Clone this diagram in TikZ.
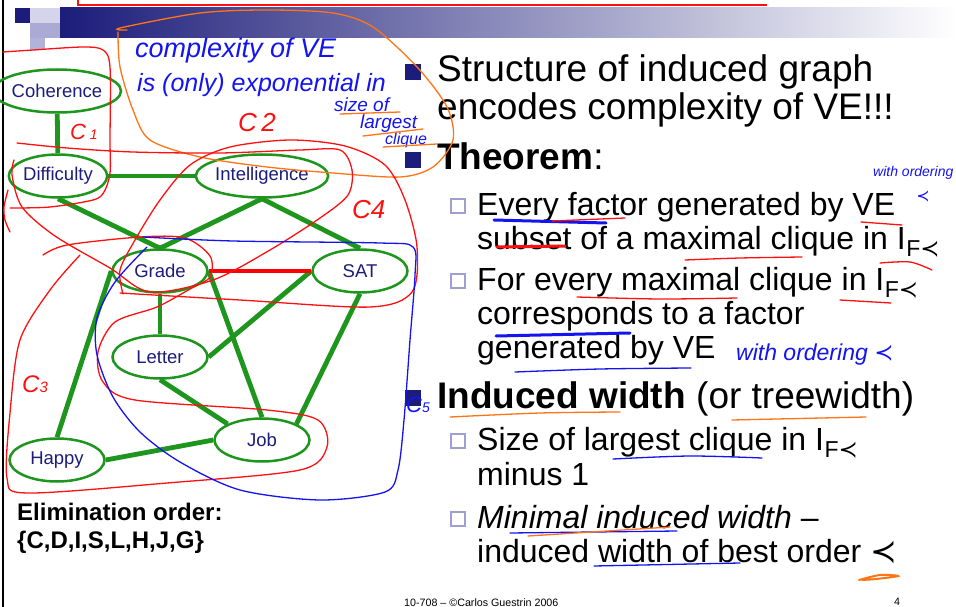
\documentclass[tikz,border=0pt]{standalone}
\usepackage{fontspec}
\setmainfont{Liberation Sans}
\newfontfamily\symfont{DejaVu Sans}
\usetikzlibrary{shapes.geometric}
\definecolor{slnavy}{HTML}{1C1C7A}
\definecolor{slgreen}{HTML}{1E961E}
\definecolor{sllav}{HTML}{A0A0D0}
\definecolor{inkred}{HTML}{FF1010}
\definecolor{inkblue}{HTML}{1414F0}
\definecolor{inkorange}{HTML}{FF7414}
\newcommand{\Ifp}{I\kern0.5pt\raisebox{-7pt}{\fontsize{23}{23}\selectfont F{\symfont ≺}}}

\begin{document}
\begin{tikzpicture}[x=1pt,y=-1pt,
  var/.style={ellipse, draw=slgreen, line width=2.5pt, minimum width=95pt, minimum height=43pt,
    inner sep=0pt, text=slnavy, font=\fontsize{18.5}{18.5}\selectfont},
  link/.style={slgreen, line width=4.8pt},
  bul/.style={fill=slnavy, minimum size=16pt, inner sep=0pt},
  subbul/.style={draw=sllav, line width=1.6pt, minimum size=14pt, inner sep=0pt},
  big/.style={anchor=base west, inner sep=0pt, font=\fontsize{37}{37}\selectfont},
  med/.style={anchor=base west, inner sep=0pt, font=\fontsize{32}{32}\selectfont},
  hand/.style={anchor=base west, inner sep=0pt, font=\fontsize{#1}{#1}\selectfont\itshape},
  ink/.style={line width=1.3pt, line cap=round, line join=round}]
  \useasboundingbox (0,0) rectangle (956,607);
  \fill[white] (0,0) rectangle (956,607);

  % slide frame
  \shade[left color=slnavy, right color=white] (60,8) rectangle (956,38);
  \fill[slnavy] (15,8) rectangle (30,23);
  \fill[sllav!45] (30,8) rectangle (60,23);
  \fill[sllav!90] (30,23) rectangle (60,38);
  \fill[sllav!80] (30,38) rectangle (45,50);
  \draw[black, line width=2pt] (3,0) -- (3,607);
  \draw[inkred, line width=2.2pt] (78,-5) -- (78,5) -- (767,5);

  % network
  \node[var] (coh) at (57,91) {Coherence};
  \node[var] (diff) at (58,176) {Difficulty};
  \node[var] (intel) at (262,176) {Intelligence};
  \node[var] (grade) at (160,271) {Grade};
  \node[var] (sat) at (360,271) {SAT};
  \node[var] (letter) at (160,357) {Letter};
  \node[var] (job) at (262,440) {Job};
  \node[var] (happy) at (57,460) {Happy};
  \draw[link] (coh) -- (diff);
  \draw[link] (diff) -- (intel);
  \draw[link] (diff.south) -- (grade.north);
  \draw[link] (intel.south) -- (grade.north);
  \draw[link] (intel.south) -- (sat.north);
  \draw[link] (grade.south) -- (letter.north);
  \draw[link] (grade.east) -- (job.north);
  \draw[link] (sat.west) -- (letter.east);
  \draw[link] (sat.south) -- (job.north east);
  \draw[link] (letter.south) -- (job.north west);
  \draw[link] (happy.north) -- (grade.west);
  \draw[link] (happy.east) -- (job.west);
  \draw[red, line width=4pt] (grade.east) -- (sat.west);

  \node[anchor=base west, inner sep=0pt, font=\fontsize{24}{24}\selectfont\bfseries] (elim) at (17,520) {Elimination order:};
  \node[anchor=base west, inner sep=0pt, font=\fontsize{24}{24}\selectfont\bfseries] (order) at (17,548) {\{C,D,I,S,L,H,J,G\}};

  % bullets
  \node[bul] (b1) at (413,72) {};
  \node[big] (t1) at (437,82) {Structure of induced graph};
  \node[big] (t2) at (437,120) {encodes complexity of VE!!!};
  \node[bul] (b2) at (413,160) {};
  \node[big] (t3) at (437,170) {\textbf{Theorem}:};
  \node[subbul] (c1) at (458,206) {};
  \node[med] (s1) at (477,215) {Every factor generated by VE};
  \node[med] (s2) at (477,249) {subset of a maximal clique in \Ifp};
  \node[subbul] (c2) at (458,281) {};
  \node[med] (s3) at (477,290) {For every maximal clique in \Ifp};
  \node[med] (s4) at (477,324) {corresponds to a factor};
  \node[med] (s5) at (477,358) {generated by VE};
  \node[bul] (b3) at (413,398) {};
  \node[big] (t4) at (437,408) {\textbf{Induced width} (or treewidth)};
  \node[subbul] (c3) at (458,441) {};
  \node[med] (s6) at (477,450) {Size of largest clique in \Ifp};
  \node[med] (s7) at (477,485) {minus 1};
  \node[subbul] (c4) at (458,519) {};
  \node[med] (s8) at (477,528) {\textit{Minimal induced width} --};
  \node[med] (s9) at (477,562) {induced width of best order {\symfont ≺}};
  \node[anchor=base west, inner sep=0pt, font=\fontsize{10.7}{11}\selectfont] (foot) at (404,606) {10-708 -- \textcopyright Carlos Guestrin 2006};
  \node[anchor=base west, inner sep=0pt, font=\fontsize{10.7}{11}\selectfont] (page) at (894,605) {4};

  % ink: cliques
  \draw[ink, inkorange] plot[smooth] coordinates {(127,30) (120,28) (200,13) (267,10) (333,13) (373,27) (417,67) (447,107) (453,140) (433,167) (400,177) (333,173) (267,167) (200,157) (150,140) (133,110) (120,67) (118,32)};
  \draw[ink, inkred] plot[smooth] coordinates {(3,52) (33,50) (83,47) (103,50) (110,67) (110,140) (110,173) (104,192) (93,200) (50,207) (10,208)};
  \draw[ink, inkred] plot[smooth] coordinates {(8,190) (4,207) (5,220) (10,232)};
  \draw[ink, inkred] plot[smooth] coordinates {(17,143) (67,148) (133,152) (220,153) (300,150) (340,150) (352,170) (348,195) (320,218) (270,250) (213,280) (150,292) (110,268) (55,236) (22,207) (12,175) (14,160)};
  \draw[ink, inkred] plot[smooth] coordinates {(123,294) (120,270) (135,240) (160,200) (190,165) (230,147) (290,140) (345,146) (385,165) (405,200) (417,247) (412,292) (370,307) (240,300) (120,293)};
  \draw[ink, inkred] plot[smooth] coordinates {(43,255) (67,245) (140,237) (185,238) (210,256) (210,277) (190,289) (157,307) (115,322) (98,352) (103,382) (135,400) (267,410) (318,420) (327,447) (300,470) (167,483) (27,493) (7,478) (10,413) (20,340) (50,290) (80,255)};
  \draw[ink, inkblue] plot[smooth] coordinates {(143,237) (233,241) (380,243) (413,247) (415,275) (410,340) (404,420) (398,470) (385,492) (320,500) (240,490) (180,462) (140,432) (113,397) (97,355) (97,318) (115,282) (147,247)};

  % ink: words
  \node[hand=27, text=inkblue] (note1) at (135,58) {complexity of VE};
  \node[hand=25, text=inkblue] (note2) at (137,92) {is (only) exponential in};
  \node[hand=19, text=inkblue] (note3) at (334,112) {size of};
  \node[hand=19, text=inkblue] (note4) at (360,129) {largest};
  \node[hand=16, text=inkblue] (note5) at (385,145) {clique};
  \draw[ink, inkorange] (340,114) -- (400,112);
  \draw[ink, inkorange] (363,136) -- (423,129);
  \draw[ink, inkorange] (383,147) -- (437,144);
  \node[hand=22, text=inkred] (cl1) at (70,140) {C\,{\fontsize{14}{14}\selectfont 1}};
  \node[hand=26, text=inkred] (cl2) at (238,132) {C\,2};
  \node[hand=24, text=inkred] (cl3) at (22,392) {C{\fontsize{15}{15}\selectfont 3}};
  \node[hand=26, text=inkred] (cl4) at (352,218) {C4};
  \node[hand=22, text=inkblue] (cl5) at (406,412) {C{\fontsize{14}{14}\selectfont 5}};
  \node[hand=23, text=inkblue] (note6) at (736,360) {with ordering {\symfont ≺}};
  \node[hand=14, text=inkblue] (note7) at (873,176) {with ordering};
  \node[inner sep=0pt, text=inkblue, font=\fontsize{16}{16}\selectfont\symfont] (note8) at (923,196) {≺};

  % ink: underlines
  \draw[inkblue, line width=3pt, line cap=round] (494,220) -- (606,223);
  \draw[ink, inkred] (552,221) -- (625,218);
  \draw[ink, inkred] (861,222) -- (902,225);
  \draw[inkred, line width=3pt, line cap=round] (497,247) -- (565,246);
  \draw[ink, inkred] plot[smooth] coordinates {(685,260) (740,258) (802,257)};
  \draw[ink, inkred] plot[smooth] coordinates {(880,263) (910,262) (932,270)};
  \draw[ink, inkred] plot[smooth] coordinates {(577,297) (660,299) (737,298)};
  \draw[ink, inkred] (840,300) -- (891,303);
  \draw[inkblue, line width=3pt, line cap=round] (496,336) -- (630,333);
  \draw[ink, inkblue] plot[smooth] coordinates {(515,372) (600,369) (691,368)};
  \draw[ink, inkorange] plot[smooth] coordinates {(450,417) (540,413) (620,412)};
  \draw[ink, inkorange] (732,420) -- (866,417);
  \draw[ink, inkblue] plot[smooth] coordinates {(613,459) (690,456) (762,458)};
  \draw[ink, inkblue] (510,533) -- (677,531);
  \draw[ink, inkorange] (528,536) -- (670,527);
  \draw[ink, inkblue] (594,566) -- (740,563);
  \draw[inkorange, line width=2pt, line cap=round] plot[smooth] coordinates {(859,580) (880,575) (898,576) (876,579) (862,580)};
\end{tikzpicture}
\end{document}
